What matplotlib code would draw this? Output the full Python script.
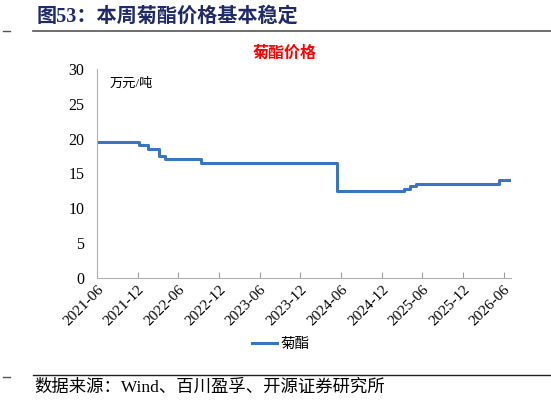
import matplotlib
matplotlib.use("Agg")
import matplotlib.pyplot as plt
import pandas as pd

# step dates and price (万元/吨)
dates = ["2021-06-01", "2021-12-06", "2022-01-18", "2022-03-05", "2022-04-01",
         "2022-09-10", "2024-05-15", "2025-03-10", "2025-04-05", "2025-05-05",
         "2026-05-12", "2026-07-03"]
prices = [19.5, 19.0, 18.5, 17.5, 17.0, 16.5, 12.5, 12.8, 13.2, 13.4, 14.0, 14.0]
tick_labels = ["2021-06", "2021-12", "2022-06", "2022-12", "2023-06", "2023-12",
               "2024-06", "2024-12", "2025-06", "2025-12", "2026-06"]

fonts = ["Liberation Serif", "Noto Sans CJK SC"]
plt.rcParams["font.family"] = fonts

x = pd.to_datetime(dates)
ticks = pd.to_datetime([t + "-01" for t in tick_labels])

fig = plt.figure(figsize=(5.51, 4.05), dpi=100)
ax = fig.add_axes([0.176, 0.314, 0.751, 0.516])

ax.plot(x, prices, drawstyle="steps-post", color="#3a75c4", lw=2.2, label="菊酯")

ax.set_xlim(pd.Timestamp("2021-06-01"), pd.Timestamp("2026-07-03"))
ax.set_ylim(0, 30)
ax.set_yticks(range(0, 31, 5))
ax.set_xticks(ticks)
ax.set_xticklabels(tick_labels, rotation=45, ha="right", rotation_mode="anchor", fontsize=11)
ax.tick_params(axis="y", length=0, labelsize=11.5, pad=9)
ax.tick_params(axis="x", direction="in", length=4, color="#a0a0a0", pad=4)
for s in ["top", "right"]:
    ax.spines[s].set_visible(False)
for s in ["left", "bottom"]:
    ax.spines[s].set_color("#b0b0b0")

ax.text(0.03, 0.96, "万元/吨", transform=ax.transAxes, fontsize=9.5, va="top")
fig.text(0.517, 0.857, "菊酯价格", color="#ff0000", fontsize=11.5, fontweight="bold", ha="center")

leg = fig.legend(loc="center", bbox_to_anchor=(0.51, 0.15), frameon=False, fontsize=10.5,
                 handlelength=1.7, handletextpad=0.3)

# header and footer decorations
fig.text(0.067, 0.958, "图53：本周菊酯价格基本稳定", color="#1f2a6b", fontsize=14.5,
         fontweight="bold", va="center")
fig.add_artist(plt.Line2D([0.06, 1.0], [0.923, 0.923], color="#555555", lw=1.2))
fig.add_artist(plt.Line2D([0.005, 0.018], [0.923, 0.923], color="#555555", lw=1.0))
fig.add_artist(plt.Line2D([0.06, 1.0], [0.074, 0.074], color="#222222", lw=1.0))
fig.add_artist(plt.Line2D([0.005, 0.018], [0.069, 0.069], color="#555555", lw=1.0))
fig.text(0.062, 0.044, "数据来源：Wind、百川盈孚、开源证券研究所", fontsize=12.5, va="center")

fig.savefig("out.png", dpi=100)
